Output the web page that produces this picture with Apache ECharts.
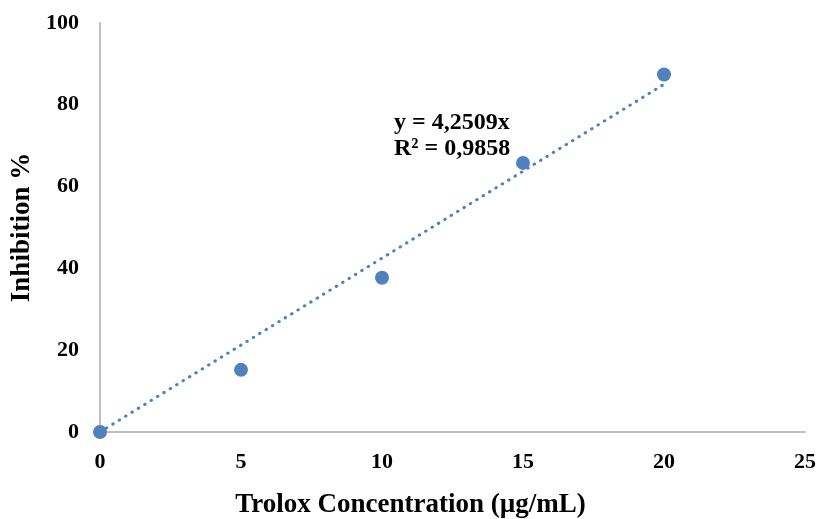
<!DOCTYPE html>
<html>
<head>
<meta charset="utf-8">
<script src="https://cdn.jsdelivr.net/npm/echarts@6/dist/echarts.min.js"></script>
<style>
html, body { margin: 0; padding: 0; background: #fff; }
#main { width: 820px; height: 519px; }
</style>
</head>
<body>
<div id="main"></div>
<script>
// measured points
var concentration = [0, 5, 10, 15, 20];
var inhibition = [0, 15.2, 37.7, 65.8, 87.4];
// linear trendline through origin, y = 4,2509x, drawn from 0 to 20
var trendX = [0, 20];
var trendY = [0, 85.02];
var xTicks = [0, 5, 10, 15, 20, 25];
var yTicks = [0, 20, 40, 60, 80, 100];

var font = 'Liberation Serif';

var points = [];
for (var i = 0; i < concentration.length; i++) {
    points.push([concentration[i], inhibition[i]]);
}
var trend = [];
for (var j = 0; j < trendX.length; j++) {
    trend.push([trendX[j], trendY[j]]);
}

var chart = echarts.init(document.getElementById('main'));
var option = {
    animation: false,
    grid: { left: 100, right: 15, top: 23, bottom: 87, containLabel: false, outerBoundsMode: 'none' },
    xAxis: {
        type: 'value',
        min: xTicks[0],
        max: xTicks[xTicks.length - 1],
        interval: 5,
        name: 'Trolox Concentration (µg/mL)',
        nameLocation: 'middle',
        nameGap: 60,
        // title sits a bit left of the axis centre in the original
        nameTextStyle: { fontFamily: font, fontWeight: 'bold', fontSize: 27, color: '#000', padding: [0, 84, 0, 0] },
        axisLine: { lineStyle: { color: '#bfbfbf', width: 2 } },
        axisTick: { show: false },
        splitLine: { show: false },
        axisLabel: { margin: 19, fontFamily: font, fontWeight: 'bold', fontSize: 22, color: '#000' }
    },
    yAxis: {
        type: 'value',
        min: yTicks[0],
        max: yTicks[yTicks.length - 1],
        interval: 20,
        name: 'Inhibition %',
        nameLocation: 'middle',
        nameGap: 64,
        nameTextStyle: { fontFamily: font, fontWeight: 'bold', fontSize: 27, color: '#000' },
        axisLine: { show: true, lineStyle: { color: '#bfbfbf', width: 2 } },
        axisTick: { show: false },
        splitLine: { show: false },
        axisLabel: { margin: 21, fontFamily: font, fontWeight: 'bold', fontSize: 22, color: '#000' }
    },
    series: [
        {
            type: 'line',
            data: trend,
            symbol: 'none',
            lineStyle: { color: '#4f81bd', width: 3, type: [0.5, 7], cap: 'round' },
            z: 2
        },
        {
            type: 'scatter',
            data: points,
            symbolSize: 14,
            itemStyle: { color: '#4f81bd', opacity: 1 },
            z: 3
        }
    ],
    graphic: [
        {
            type: 'text',
            left: 394,
            top: 110,
            style: {
                text: 'y = 4,2509x\nR² = 0,9858',
                fontFamily: font,
                fontWeight: 'bold',
                fontSize: 24,
                lineHeight: 26,
                fill: '#000'
            }
        }
    ]
};
chart.setOption(option);
</script>
</body>
</html>
